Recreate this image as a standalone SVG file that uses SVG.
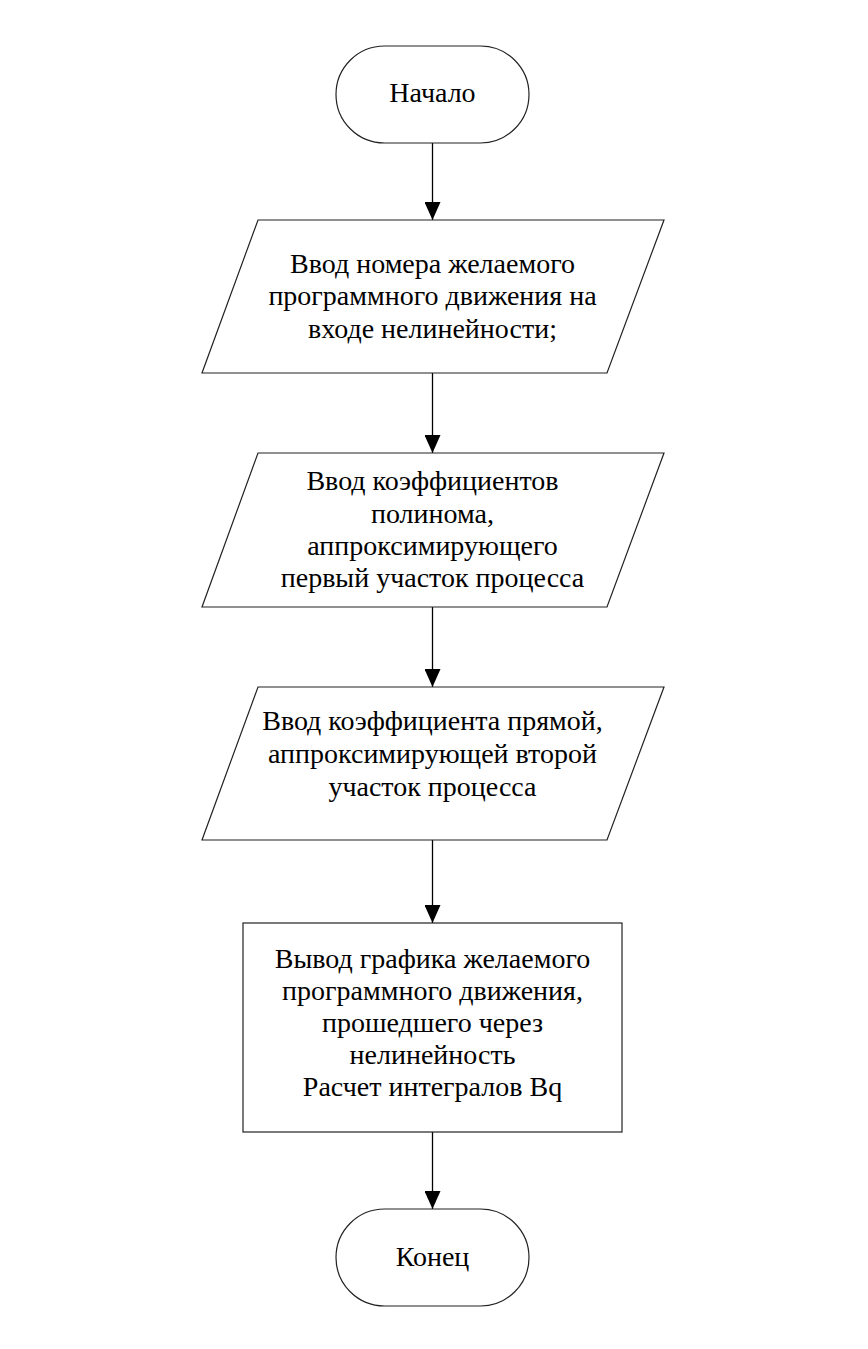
<svg xmlns="http://www.w3.org/2000/svg" width="868" height="1349" viewBox="0 0 868 1349">
<style>
.shape{fill:#fff;stroke:#222;stroke-width:1.2}
.lbl{font-family:"Liberation Serif","Times New Roman",serif;font-size:28px;fill:#000;text-anchor:middle}
.conn{stroke:#000;stroke-width:1.3;fill:none}
</style>
<defs>
<marker id="arr" markerUnits="userSpaceOnUse" markerWidth="16" markerHeight="18" refX="8" refY="18" orient="auto-start-reverse" viewBox="0 0 16 18">
<path d="M0,0 L16,0 L8,18 Z" fill="#000" transform="rotate(-90 8 9)"/>
</marker>
<marker id="ah" markerUnits="userSpaceOnUse" markerWidth="18" markerHeight="16" refX="18" refY="8" orient="auto" viewBox="0 0 18 16">
<path d="M0,0 L18,8 L0,16 Z" fill="#000"/>
</marker>
</defs>
<rect width="868" height="1349" fill="#fff"/>
<g id="connectors">
<line class="conn" x1="432.5" y1="143" x2="432.5" y2="220" marker-end="url(#ah)"/>
<line class="conn" x1="432.5" y1="373" x2="432.5" y2="453" marker-end="url(#ah)"/>
<line class="conn" x1="432.5" y1="607" x2="432.5" y2="687" marker-end="url(#ah)"/>
<line class="conn" x1="432.5" y1="840" x2="432.5" y2="923" marker-end="url(#ah)"/>
<line class="conn" x1="432.5" y1="1132" x2="432.5" y2="1209" marker-end="url(#ah)"/>
</g>
<g id="start">
<rect class="shape" x="336" y="46" width="193" height="97" rx="48.5" ry="48.5"/>
<text class="lbl" x="432.5" y="102">Начало</text>
</g>
<g id="input1">
<polygon class="shape" points="258,220 664,220 607,373 202,373"/>
<text class="lbl" x="432.5" y="273">Ввод номера желаемого</text>
<text class="lbl" x="432.5" y="305">программного движения на</text>
<text class="lbl" x="432.5" y="338">входе нелинейности;</text>
</g>
<g id="input2">
<polygon class="shape" points="258,453 664,453 607,607 202,607"/>
<text class="lbl" x="432.5" y="490">Ввод коэффициентов</text>
<text class="lbl" x="432.5" y="523">полинома,</text>
<text class="lbl" x="432.5" y="555">аппроксимирующего</text>
<text class="lbl" x="432.5" y="587">первый участок процесса</text>
</g>
<g id="input3">
<polygon class="shape" points="258,687 664,687 607,840 202,840"/>
<text class="lbl" x="432.5" y="730">Ввод коэффициента прямой,</text>
<text class="lbl" x="432.5" y="763">аппроксимирующей второй</text>
<text class="lbl" x="432.5" y="796">участок процесса</text>
</g>
<g id="output">
<rect class="shape" x="243" y="923" width="379" height="209"/>
<text class="lbl" x="432.5" y="968">Вывод графика желаемого</text>
<text class="lbl" x="432.5" y="1000">программного движения,</text>
<text class="lbl" x="432.5" y="1032">прошедшего через</text>
<text class="lbl" x="432.5" y="1064">нелинейность</text>
<text class="lbl" x="432.5" y="1096">Расчет интегралов Bq</text>
</g>
<g id="end">
<rect class="shape" x="336" y="1209" width="193" height="97" rx="48.5" ry="48.5"/>
<text class="lbl" x="432.5" y="1266">Конец</text>
</g>
</svg>
